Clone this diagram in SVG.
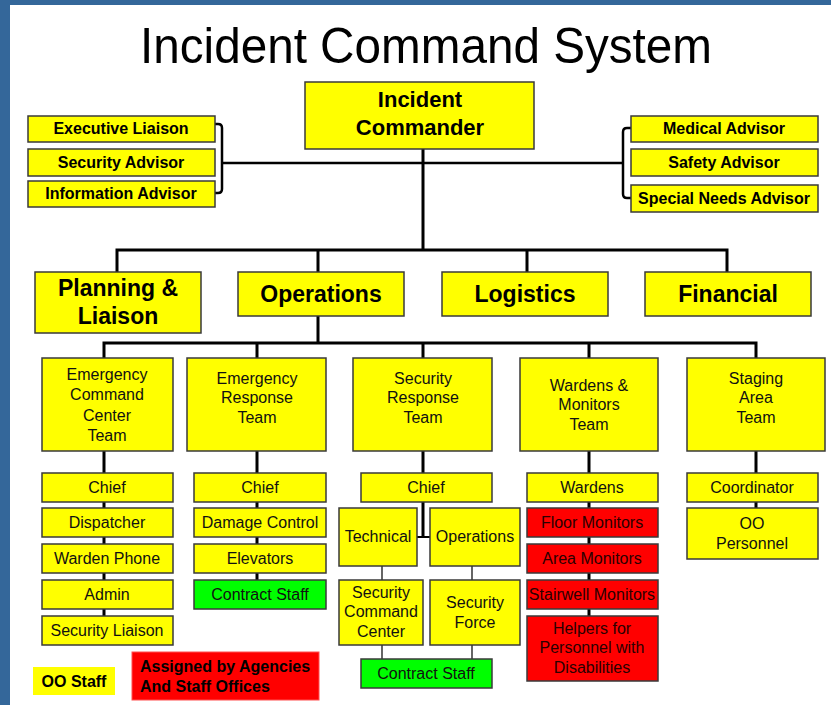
<svg xmlns="http://www.w3.org/2000/svg" width="831" height="705" viewBox="0 0 831 705">
<style>
.bx{fill:#ffff00;stroke:#3a3a3a;stroke-width:1.5}
.gr{fill:#00ff00;stroke:#3a3a3a;stroke-width:1.5}
.rd{fill:#ff0000;stroke:#3a3a3a;stroke-width:1.5}
text{font-family:"Liberation Sans",Arial,sans-serif;text-anchor:middle}
.b16{font-size:16px;font-weight:bold;fill:#000}
.b23{font-size:23px;font-weight:bold;fill:#000}
.n16{font-size:16px;fill:#111}
.r16{font-size:16px;fill:#2a0000}
.ln{stroke:#000;stroke-width:3;fill:none}
.tn{stroke:#000;stroke-width:1.2;fill:none}
</style>
<rect x="0" y="0" width="831" height="705" fill="#ffffff"/>
<rect x="0" y="0" width="831" height="5" fill="#34679a"/>
<rect x="0" y="0" width="10" height="705" fill="#34679a"/>
<text x="426" y="63" font-size="50" textLength="572" lengthAdjust="spacingAndGlyphs" fill="#000">Incident Command System</text>

<g id="connectors">
<path class="ln" d="M423,149 V250 M117,272 V250 H727 V272 M318,250 V272 M527,250 V272"/>
<path class="ln" style="stroke-width:2.5" d="M222,163 H623"/>
<path class="ln" style="stroke-width:2.5" d="M215,124 h3 q4,0 4,4 V189 q0,4 -4,4 h-3"/>
<path class="ln" style="stroke-width:2.5" d="M631,128 h-4 q-4,0 -4,4 V194 q0,4 4,4 h4"/>
<path class="ln" d="M318,316 V343 M104,358 V343 H756 V358 M257,343 V358 M423,343 V358 M589,343 V358"/>
<path class="ln" d="M104,451 V616 M257,451 V580 M423,451 V537 M589,451 V616 M756,451 V508"/>
<path class="ln" style="stroke-width:2" d="M417,537 H430"/>
<path class="tn" d="M382,566 V580 M472,566 V580 M382,645 V659 M472,645 V659"/>
</g>

<g id="incident-commander"><rect class="bx" x="305" y="82" width="229" height="67"/><text class="b23" x="420" y="107" style="font-size:22px">Incident</text><text class="b23" x="420" y="135" style="font-size:22px">Commander</text></g>

<g id="executive-liaison"><rect class="bx" x="28" y="116" width="187" height="26"/><text class="b16" x="121" y="134">Executive Liaison</text></g>
<g id="security-advisor"><rect class="bx" x="28" y="149" width="187" height="27"/><text class="b16" x="121" y="168">Security Advisor</text></g>
<g id="information-advisor"><rect class="bx" x="28" y="181" width="187" height="26"/><text class="b16" x="121" y="199">Information Advisor</text></g>

<g id="medical-advisor"><rect class="bx" x="631" y="116" width="187" height="26"/><text class="b16" x="724" y="134">Medical Advisor</text></g>
<g id="safety-advisor"><rect class="bx" x="631" y="149" width="187" height="27"/><text class="b16" x="724" y="168">Safety Advisor</text></g>
<g id="special-needs-advisor"><rect class="bx" x="631" y="185" width="187" height="27"/><text class="b16" x="724" y="204">Special Needs Advisor</text></g>

<g id="planning-liaison"><rect class="bx" x="35" y="272" width="166" height="61"/><text class="b23" x="118" y="296">Planning &amp;</text><text class="b23" x="118" y="324">Liaison</text></g>
<g id="operations"><rect class="bx" x="238" y="272" width="166" height="44"/><text class="b23" x="321" y="302">Operations</text></g>
<g id="logistics"><rect class="bx" x="442" y="272" width="166" height="44"/><text class="b23" x="525" y="302">Logistics</text></g>
<g id="financial"><rect class="bx" x="645" y="272" width="166" height="44"/><text class="b23" x="728" y="302">Financial</text></g>

<g id="ecc-team"><rect class="bx" x="42" y="358" width="131" height="93"/><text class="n16" x="107" y="380">Emergency</text><text class="n16" x="107" y="400">Command</text><text class="n16" x="107" y="421">Center</text><text class="n16" x="107" y="441">Team</text></g>
<g id="ert-team"><rect class="bx" x="187" y="358" width="139" height="93"/><text class="n16" x="257" y="384">Emergency</text><text class="n16" x="257" y="403">Response</text><text class="n16" x="257" y="423">Team</text></g>
<g id="srt-team"><rect class="bx" x="353" y="358" width="139" height="93"/><text class="n16" x="423" y="384">Security</text><text class="n16" x="423" y="403">Response</text><text class="n16" x="423" y="423">Team</text></g>
<g id="wardens-team"><rect class="bx" x="520" y="358" width="138" height="93"/><text class="n16" x="589" y="391">Wardens &amp;</text><text class="n16" x="589" y="410">Monitors</text><text class="n16" x="589" y="430">Team</text></g>
<g id="staging-team"><rect class="bx" x="687" y="358" width="138" height="93"/><text class="n16" x="756" y="384">Staging</text><text class="n16" x="756" y="403">Area</text><text class="n16" x="756" y="423">Team</text></g>

<g id="ecc-chief"><rect class="bx" x="42" y="473" width="131" height="29"/><text class="n16" x="107" y="493">Chief</text></g>
<g id="ecc-dispatcher"><rect class="bx" x="42" y="508" width="131" height="29"/><text class="n16" x="107" y="528">Dispatcher</text></g>
<g id="ecc-warden-phone"><rect class="bx" x="42" y="544" width="131" height="29"/><text class="n16" x="107" y="564">Warden Phone</text></g>
<g id="ecc-admin"><rect class="bx" x="42" y="580" width="131" height="29"/><text class="n16" x="107" y="600">Admin</text></g>
<g id="ecc-security-liaison"><rect class="bx" x="42" y="616" width="131" height="29"/><text class="n16" x="107" y="636">Security Liaison</text></g>

<g id="ert-chief"><rect class="bx" x="194" y="473" width="132" height="29"/><text class="n16" x="260" y="493">Chief</text></g>
<g id="ert-damage-control"><rect class="bx" x="194" y="508" width="132" height="29"/><text class="n16" x="260" y="528">Damage Control</text></g>
<g id="ert-elevators"><rect class="bx" x="194" y="544" width="132" height="29"/><text class="n16" x="260" y="564">Elevators</text></g>
<g id="ert-contract-staff"><rect class="gr" x="194" y="580" width="132" height="29"/><text class="n16" x="260" y="600">Contract Staff</text></g>

<g id="srt-chief"><rect class="bx" x="361" y="473" width="131" height="29"/><text class="n16" x="426" y="493">Chief</text></g>
<g id="srt-technical"><rect class="bx" x="339" y="508" width="78" height="58"/><text class="n16" x="378" y="542">Technical</text></g>
<g id="srt-operations"><rect class="bx" x="430" y="508" width="90" height="58"/><text class="n16" x="475" y="542">Operations</text></g>
<g id="srt-security-command-center"><rect class="bx" x="339" y="580" width="84" height="65"/><text class="n16" x="381" y="598">Security</text><text class="n16" x="381" y="617">Command</text><text class="n16" x="381" y="637">Center</text></g>
<g id="srt-security-force"><rect class="bx" x="430" y="580" width="90" height="65"/><text class="n16" x="475" y="608">Security</text><text class="n16" x="475" y="628">Force</text></g>
<g id="srt-contract-staff"><rect class="gr" x="361" y="659" width="131" height="29"/><text class="n16" x="426" y="679">Contract Staff</text></g>

<g id="wardens"><rect class="bx" x="527" y="473" width="131" height="29"/><text class="n16" x="592" y="493">Wardens</text></g>
<g id="floor-monitors"><rect class="rd" x="527" y="508" width="131" height="29"/><text class="r16" x="592" y="528">Floor Monitors</text></g>
<g id="area-monitors"><rect class="rd" x="527" y="544" width="131" height="29"/><text class="r16" x="592" y="564">Area Monitors</text></g>
<g id="stairwell-monitors"><rect class="rd" x="527" y="580" width="131" height="29"/><text class="r16" x="592" y="600">Stairwell Monitors</text></g>
<g id="helpers"><rect class="rd" x="527" y="616" width="131" height="65"/><text class="r16" x="592" y="634">Helpers for</text><text class="r16" x="592" y="653">Personnel with</text><text class="r16" x="592" y="673">Disabilities</text></g>

<g id="coordinator"><rect class="bx" x="687" y="473" width="131" height="29"/><text class="n16" x="752" y="493">Coordinator</text></g>
<g id="oo-personnel"><rect class="bx" x="687" y="508" width="131" height="51"/><text class="n16" x="752" y="529">OO</text><text class="n16" x="752" y="549">Personnel</text></g>

<g id="legend-oo-staff"><rect x="33" y="667" width="82" height="28" fill="#ffff00"/><text class="b16" x="74" y="687">OO Staff</text></g>
<g id="legend-assigned"><rect x="132" y="652" width="187" height="48" fill="#ff0000" stroke="#ff5050" stroke-width="1"/><text class="b16" x="140" y="672" style="text-anchor:start">Assigned by Agencies</text><text class="b16" x="140" y="692" style="text-anchor:start">And Staff Offices</text></g>
</svg>
